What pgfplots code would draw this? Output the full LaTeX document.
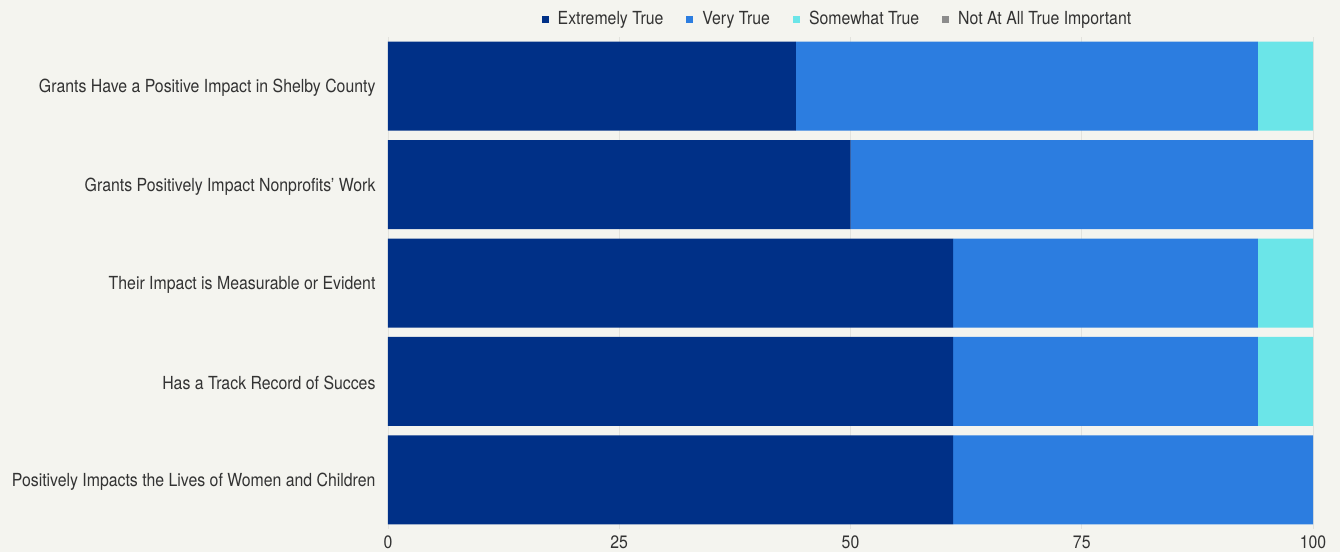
\documentclass[border=0pt]{standalone}
\usepackage{pgfplots}
\pgfplotsset{compat=1.18}
\usepackage{fontspec}
\setmainfont{TeX Gyre Heros}[FakeStretch=0.88]
\usetikzlibrary{backgrounds}
\definecolor{bg}{HTML}{F4F4EF}
\definecolor{c1}{HTML}{003087}
\definecolor{c2}{HTML}{2C7DE0}
\definecolor{c3}{HTML}{6BE5E8}
\definecolor{c4}{HTML}{8C8C8C}
\definecolor{txt}{HTML}{333333}
\definecolor{gridc}{HTML}{E2E2DD}
\begin{document}
\begin{tikzpicture}
\begin{axis}[
  xbar stacked,
  scale only axis, width=925bp, height=492bp,
  xmin=0, xmax=100, ymin=-0.5, ymax=4.5, y dir=reverse,
  bar width=89bp,
  axis line style={draw=none},
  tick style={draw=none},
  xtick={0,25,50,75,100},
  ytick={0,1,2,3,4},
  yticklabels={Grants Have a Positive Impact in Shelby County,
    Grants Positively Impact Nonprofits' Work,
    Their Impact is Measurable or Evident,
    Has a Track Record of Succes,
    Positively Impacts the Lives of Women and Children},
  xmajorgrids, grid style={gridc, line width=0.8bp},
  tick label style={font=\fontsize{18bp}{21bp}\selectfont, text=txt},
  yticklabel style={xshift=-9bp, yshift=-2bp},
  xticklabel style={yshift=-3bp},
  /pgf/number format/assume math mode=true,
  every axis plot/.append style={draw=none},
  legend style={at={(0.5,1)}, anchor=center, yshift=18bp, xshift=-13bp,
    draw=none, fill=none, font=\fontsize{18bp}{21bp}\selectfont, text=txt,
    legend columns=4,
    /tikz/every even column/.append style={column sep=21bp}},
  legend image code/.code={\fill[#1] (0bp,-3.5bp) rectangle (7bp,3.5bp); \path (14bp,0bp);},
]
\addplot[fill=c1] coordinates {(44.1,0) (50,1) (61.1,2) (61.1,3) (61.1,4)};
\addplot[fill=c2] coordinates {(49.95,0) (50,1) (32.95,2) (32.95,3) (38.9,4)};
\addplot[fill=c3] coordinates {(5.95,0) (0,1) (5.95,2) (5.95,3) (0,4)};
\addplot[fill=c4] coordinates {(0,0) (0,1) (0,2) (0,3) (0,4)};
\legend{Extremely True, Very True, Somewhat True, Not At All True Important}
\end{axis}
\pgfresetboundingbox
\begin{scope}[on background layer]
\fill[bg] ([xshift=-388bp,yshift=-23bp]current axis.south west) rectangle ([xshift=27bp,yshift=37bp]current axis.north east);
\end{scope}
\end{tikzpicture}
\end{document}
